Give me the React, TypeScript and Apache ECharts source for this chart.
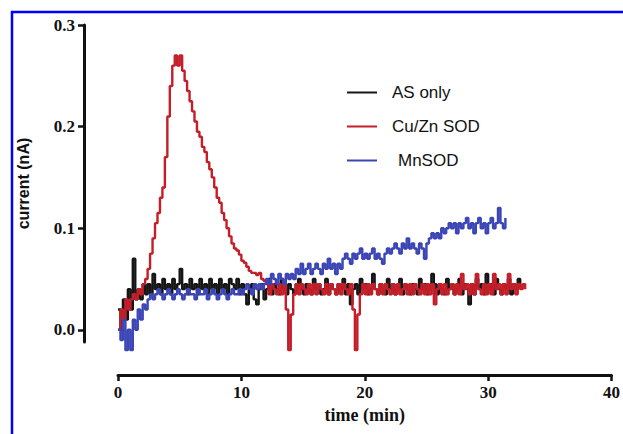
import React, { useEffect, useRef } from "react";
import * as echarts from "echarts";

// sampling interval of the recorded traces (min)
const T_STEP = 0.2;
const X_TICKS = [0, 10, 20, 30, 40];
const Y_TICKS = [0, 0.1, 0.2, 0.3];
const SERIES_NAMES = ["AS only", "Cu/Zn SOD", "MnSOD"];

// current (nA), one value every T_STEP min
const AS_ONLY = [
  0.02, 0.0, 0.03, 0.01, 0.04, 0.02, 0.07, 0.03, 0.04, 0.03,
  0.045, 0.035, 0.045, 0.035, 0.055, 0.04, 0.045, 0.035, 0.05, 0.04,
  0.045, 0.035, 0.05, 0.04, 0.045, 0.06, 0.04, 0.045, 0.035, 0.05,
  0.04, 0.045, 0.035, 0.05, 0.04, 0.045, 0.035, 0.05, 0.04, 0.045,
  0.035, 0.05, 0.04, 0.045, 0.035, 0.05, 0.045, 0.04, 0.05, 0.035,
  0.045, 0.035, 0.025, 0.04, 0.045, 0.03, 0.025, 0.04, 0.045, 0.03,
  0.04, 0.05, 0.035, 0.045, 0.04, 0.035, 0.05, 0.04, 0.035, 0.045,
  0.04, 0.035, 0.045, 0.05, 0.04, 0.035, 0.045, 0.04, 0.035, 0.05,
  0.04, 0.045, 0.035, 0.04, 0.05, 0.035, 0.045, 0.04, 0.035, 0.045,
  0.04, 0.05, 0.035, 0.045, 0.025, 0.04, 0.045, 0.035, 0.05, 0.04,
  0.045, 0.035, 0.04, 0.055, 0.04, 0.035, 0.045, 0.04, 0.035, 0.05,
  0.04, 0.045, 0.035, 0.04, 0.05, 0.035, 0.045, 0.04, 0.035, 0.045,
  0.04, 0.035, 0.05, 0.04, 0.045, 0.035, 0.04, 0.055, 0.045, 0.035,
  0.045, 0.04, 0.035, 0.05, 0.04, 0.045, 0.035, 0.04, 0.05, 0.035,
  0.045, 0.04, 0.025, 0.045, 0.035, 0.05, 0.04, 0.045, 0.035, 0.055,
  0.04, 0.045, 0.035, 0.05, 0.04, 0.035, 0.045, 0.04, 0.05, 0.035,
  0.045, 0.04, 0.05, 0.04,
];

const CUZN_SOD = [
  0.0, 0.02, 0.01, 0.03, 0.02, 0.03, 0.035, 0.03, 0.04, 0.035,
  0.045, 0.05, 0.06, 0.075, 0.09, 0.105, 0.115, 0.13, 0.14, 0.17,
  0.21, 0.24, 0.26, 0.27, 0.26, 0.27, 0.255, 0.245, 0.235, 0.225,
  0.215, 0.205, 0.195, 0.19, 0.18, 0.175, 0.165, 0.158, 0.15, 0.14,
  0.13, 0.125, 0.115, 0.108, 0.1, 0.092, 0.085, 0.08, 0.078, 0.074,
  0.068, 0.066, 0.062, 0.058, 0.056, 0.056, 0.054, 0.056, 0.05, 0.048,
  0.045, 0.035, 0.045, 0.04, 0.035, 0.045, 0.035, 0.045, 0.02, -0.02,
  0.015, 0.035, 0.045, 0.035, 0.045, 0.04, 0.035, 0.045, 0.035, 0.045,
  0.035, 0.045, 0.04, 0.035, 0.045, 0.035, 0.045, 0.04, 0.035, 0.045,
  0.035, 0.045, 0.04, 0.035, 0.045, 0.02, -0.02, 0.015, 0.035, 0.045,
  0.035, 0.045, 0.035, 0.045, 0.04, 0.035, 0.045, 0.035, 0.045, 0.04,
  0.035, 0.045, 0.035, 0.045, 0.035, 0.04, 0.045, 0.035, 0.045, 0.035,
  0.045, 0.04, 0.035, 0.045, 0.035, 0.045, 0.035, 0.045, 0.025, 0.04,
  0.045, 0.035, 0.045, 0.035, 0.04, 0.045, 0.035, 0.045, 0.035, 0.055,
  0.04, 0.045, 0.035, 0.045, 0.035, 0.055, 0.04, 0.035, 0.045, 0.035,
  0.045, 0.035, 0.055, 0.04, 0.045, 0.035, 0.045, 0.035, 0.055, 0.04,
  0.045, 0.035, 0.045, 0.04, 0.045, 0.04,
];

const MN_SOD = [
  0.0, -0.01, 0.01, -0.02, 0.0, -0.02, 0.01, 0.0, 0.02, 0.01,
  0.025, 0.02, 0.03, 0.035, 0.03, 0.035, 0.04, 0.035, 0.03, 0.035,
  0.04, 0.035, 0.03, 0.035, 0.04, 0.035, 0.03, 0.035, 0.04, 0.035,
  0.035, 0.03, 0.04, 0.035, 0.035, 0.04, 0.03, 0.035, 0.04, 0.035,
  0.03, 0.035, 0.04, 0.035, 0.03, 0.035, 0.04, 0.035, 0.035, 0.04,
  0.035, 0.04, 0.045, 0.04, 0.035, 0.045, 0.04, 0.045, 0.04, 0.045,
  0.05, 0.045, 0.055, 0.05, 0.045, 0.055, 0.05, 0.045, 0.055, 0.05,
  0.055, 0.05, 0.06, 0.055, 0.065, 0.055, 0.06, 0.065, 0.055, 0.06,
  0.065, 0.06, 0.055, 0.065, 0.06, 0.07, 0.06, 0.065, 0.055, 0.065,
  0.06, 0.07, 0.075, 0.07, 0.065, 0.075, 0.07, 0.075, 0.08, 0.07,
  0.075, 0.07, 0.075, 0.08, 0.07, 0.075, 0.07, 0.065, 0.075, 0.08,
  0.075, 0.08, 0.085, 0.08, 0.075, 0.085, 0.08, 0.09, 0.08, 0.085,
  0.08, 0.075, 0.085, 0.08, 0.07, 0.085, 0.09, 0.095, 0.09, 0.095,
  0.09, 0.1, 0.095, 0.1, 0.105, 0.1, 0.105, 0.095, 0.105, 0.1,
  0.105, 0.11, 0.1, 0.105, 0.095, 0.105, 0.11, 0.1, 0.105, 0.095,
  0.105, 0.11, 0.1, 0.105, 0.12, 0.105, 0.1, 0.11,
];

const COLORS = ["#151515", "#c41e28", "#3b45b6"];

function toPoints(vals: number[]) {
  return vals.map((v, i) => [Math.round(i * T_STEP * 100) / 100, v]);
}

export default function App() {
  const ref = useRef<HTMLDivElement>(null);
  useEffect(() => {
    if (!ref.current) return;
    const chart = echarts.init(ref.current, null, { renderer: "svg" });
    const serif = "'Liberation Serif', 'Times New Roman', serif";
    const sans = "'Liberation Sans', Arial, sans-serif";
    const datasets = [AS_ONLY, CUZN_SOD, MN_SOD];
    chart.setOption({
      animation: false,
      backgroundColor: "#ffffff",
      grid: { left: 118, right: 7, top: 25, bottom: 92, containLabel: false },
      legend: {
        orient: "vertical",
        left: 342,
        top: 79,
        icon: "rect",
        itemWidth: 30,
        itemHeight: 2,
        itemGap: 17,
        data: SERIES_NAMES,
        formatter: (name: string) => (name === "MnSOD" ? "{m|" + name + "}" : name),
        textStyle: {
          fontFamily: sans,
          fontSize: 17,
          color: "#111",
          padding: [0, 0, 0, 10],
          rich: { m: { fontFamily: sans, fontSize: 17, color: "#111", padding: [0, 0, 0, 6] } },
        },
      },
      xAxis: {
        type: "value",
        min: 0,
        max: 40,
        interval: 10,
        offset: 33,
        name: "time (min)",
        nameLocation: "middle",
        nameGap: 28,
        nameTextStyle: { fontFamily: serif, fontWeight: "bold", fontSize: 18, color: "#111" },
        axisLine: { show: true, onZero: false, lineStyle: { color: "#111", width: 3 } },
        axisTick: { show: true, length: 6, lineStyle: { color: "#111", width: 2.5 }, customValues: X_TICKS },
        axisLabel: { margin: 9, fontFamily: serif, fontWeight: "bold", fontSize: 17, color: "#111", customValues: X_TICKS },
        splitLine: { show: false },
      },
      yAxis: {
        type: "value",
        min: -0.012,
        max: 0.3,
        offset: 34,
        name: "current (nA)",
        nameLocation: "middle",
        nameRotate: 90,
        nameGap: 53,
        nameTextStyle: { fontFamily: sans, fontWeight: "bold", fontSize: 16, color: "#111" },
        axisLine: { show: true, onZero: false, lineStyle: { color: "#111", width: 3 } },
        axisTick: { show: true, length: 6, lineStyle: { color: "#111", width: 2.5 }, customValues: Y_TICKS },
        axisLabel: {
          margin: 9,
          fontFamily: serif,
          fontWeight: "bold",
          fontSize: 17,
          color: "#111",
          customValues: Y_TICKS,
          formatter: (v: number) => v.toFixed(1),
        },
        splitLine: { show: false },
      },
      graphic: [
        {
          type: "rect",
          silent: true,
          shape: { x: 12, y: 12, width: 1000, height: 1000 },
          style: { fill: "none", stroke: "#0000ff", lineWidth: 2.5 },
        },
      ],
      series: SERIES_NAMES.map((name, i) => ({
        name,
        type: "line",
        data: toPoints(datasets[i]),
        step: "end",
        symbol: "none",
        clip: false,
        color: COLORS[i],
        lineStyle: { color: COLORS[i], width: 2.4 },
        z: 2 + i,
      })),
    });
    return () => chart.dispose();
  }, []);
  return (
    <div
      ref={ref}
      style={{ position: "fixed", left: 0, top: 0, width: 623, height: 434, background: "#fff" }}
    />
  );
}
